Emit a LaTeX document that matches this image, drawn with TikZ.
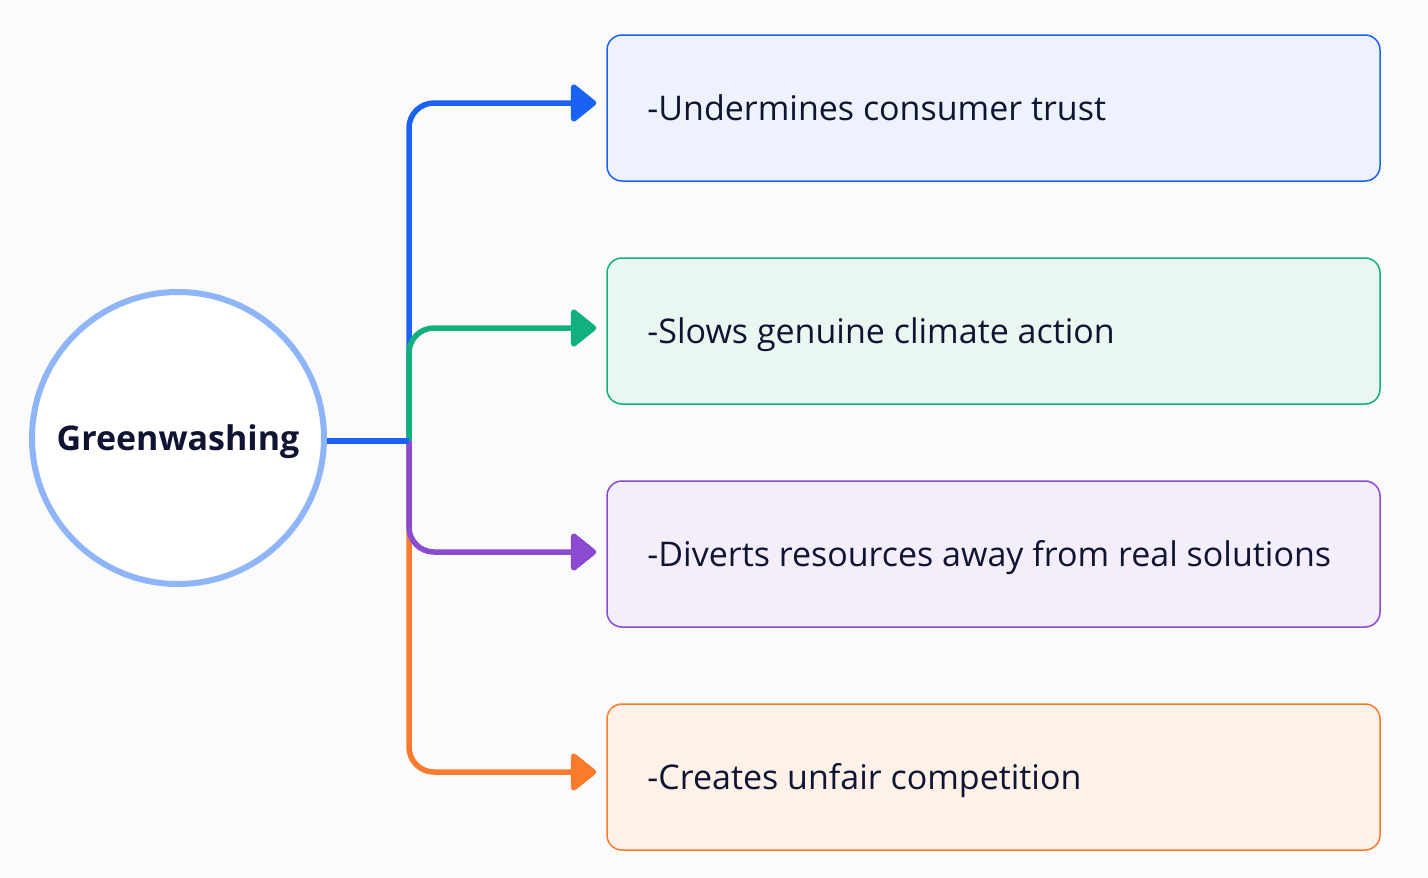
\documentclass[tikz,border=0pt]{standalone}
\usepackage{fontspec}
\setmainfont{Open Sans}
\usetikzlibrary{arrows.meta, positioning}

\begin{document}
\begin{tikzpicture}[x=1pt, y=-1pt]
    % Define colours
    \definecolor{pageColour}{HTML}{FBFBFC}
    \definecolor{textColour}{HTML}{0F1433}
    \definecolor{hubColour}{HTML}{8DB5F7}
    \definecolor{blueLine}{HTML}{1A62F4}
    \definecolor{blueFill}{HTML}{EDF2FC}
    \definecolor{greenLine}{HTML}{12B07E}
    \definecolor{greenFill}{HTML}{EAF6F0}
    \definecolor{purpleLine}{HTML}{8A4BD0}
    \definecolor{purpleFill}{HTML}{F3EEFA}
    \definecolor{orangeLine}{HTML}{F97B2B}
    \definecolor{orangeFill}{HTML}{FEF1E8}

    % Define styles
    \tikzset{
        impactBox/.style={draw=#1Line, fill=#1Fill, line width=1.5pt, rounded corners=15pt,
            minimum width=773pt, minimum height=146pt},
        impactText/.style={inner sep=0pt, anchor=base west, yshift=-12pt,
            font=\fontsize{34}{40}\selectfont, text=textColour},
        branchLine/.style={draw=#1Line, line width=5.5pt, rounded corners=25pt,
            -{Triangle[length=27pt, width=42pt, round]}, shorten >=10pt}
    }

    % Draw background
    \fill[pageColour] (0,0) rectangle (1428,878);
    \useasboundingbox (0,0) rectangle (1428,878);

    % Draw hub
    \node[circle, draw=hubColour, line width=6pt, fill=white, minimum size=292pt, text depth=0pt,
        font=\fontsize{34}{40}\selectfont\bfseries, text=textColour] (hub) at (178,438) {Greenwashing};

    % Draw impact boxes
    \node[impactBox=blue] (trust) at (993.5,108) {};
    \node[impactBox=green] (climate) at (993.5,331) {};
    \node[impactBox=purple] (resources) at (993.5,554) {};
    \node[impactBox=orange] (competition) at (993.5,777) {};

    % Label impact boxes
    \node[right=41pt of trust.west, impactText] (trustText) {-Undermines consumer trust};
    \node[right=41pt of climate.west, impactText] (climateText) {-Slows genuine climate action};
    \node[right=41pt of resources.west, impactText] (resourcesText) {-Diverts resources away from real solutions};
    \node[right=41pt of competition.west, impactText] (competitionText) {-Creates unfair competition};

    % Define junction
    \coordinate (junction) at (409,441);

    % Draw branches
    \draw[branchLine=blue] (junction) |- (trust.west |- 0,103);
    \draw[branchLine=green] (junction) |- (climate.west |- 0,328);
    \draw[branchLine=orange] (junction) |- (competition.west |- 0,772);
    \draw[branchLine=purple] (junction) |- (resources.west |- 0,552);

    % Draw stem
    \draw[blueLine, line width=5.5pt] (hub.east |- junction) -- (junction);

\end{tikzpicture}
\end{document}
